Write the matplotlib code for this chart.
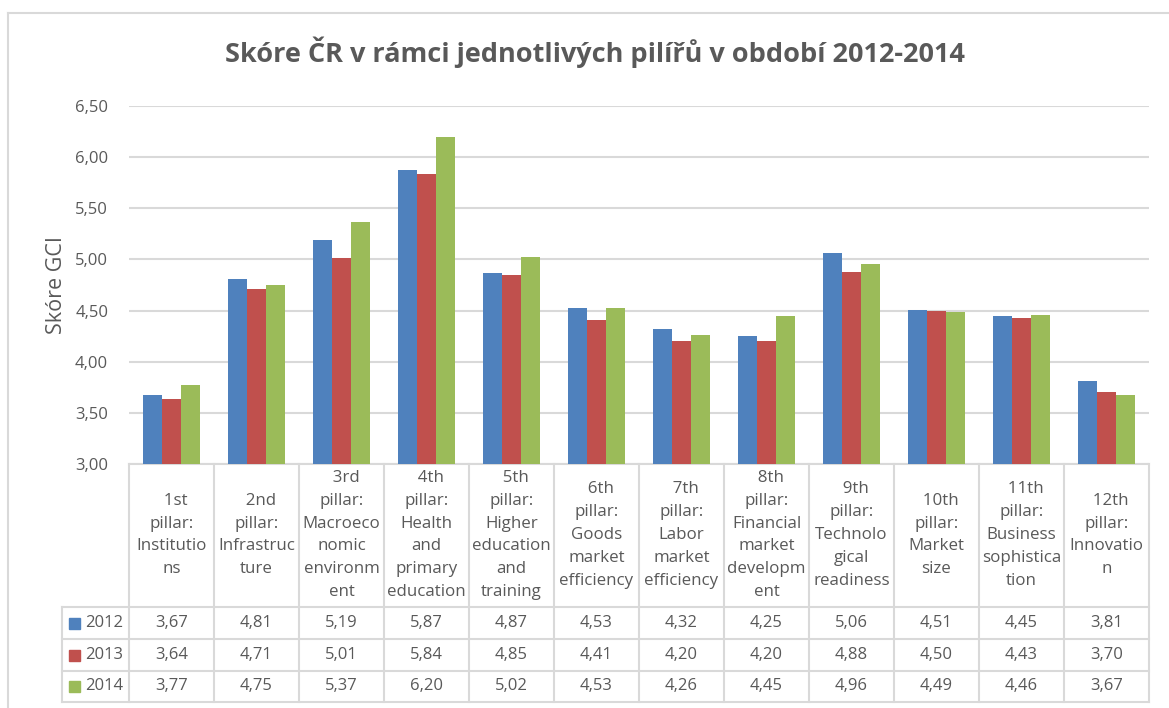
import matplotlib.pyplot as plt
import matplotlib.transforms as mtransforms
from matplotlib.lines import Line2D
from matplotlib.patches import Rectangle
import numpy as np

categories = [
    "  1st\npillar:\nInstitutio\nns",
    "  2nd\npillar:\nInfrastruc\nture",
    "  3rd\npillar:\nMacroeco\nnomic\nenvironm\nent",
    "  4th\npillar:\nHealth\nand\nprimary\neducation",
    "  5th\npillar:\nHigher\neducation\nand\ntraining",
    "  6th\npillar:\nGoods\nmarket\nefficiency",
    "  7th\npillar:\nLabor\nmarket\nefficiency",
    "  8th\npillar:\nFinancial\nmarket\ndevelopm\nent",
    "  9th\npillar:\nTechnolo\ngical\nreadiness",
    "  10th\npillar:\nMarket\nsize",
    "  11th\npillar:\nBusiness\nsophistica\ntion",
    "  12th\npillar:\nInnovatio\nn",
]
years = ["2012", "2013", "2014"]
score_2012 = [3.67, 4.81, 5.19, 5.87, 4.87, 4.53, 4.32, 4.25, 5.06, 4.51, 4.45, 3.81]
score_2013 = [3.64, 4.71, 5.01, 5.84, 4.85, 4.41, 4.20, 4.20, 4.88, 4.50, 4.43, 3.70]
score_2014 = [3.77, 4.75, 5.37, 6.20, 5.02, 4.53, 4.26, 4.45, 4.96, 4.49, 4.46, 3.67]
colors = ["#4F81BD", "#C0504D", "#9BBB59"]

TXT = "#595959"
GRID = "#D9D9D9"
W, H = 1169, 708

plt.rcParams['font.family'] = ['Open Sans', 'DejaVu Sans']

def fx(px):
    return px / W

def fy(py):
    return 1 - py / H

fig = plt.figure(figsize=(W / 100, H / 100), dpi=100)
ax = fig.add_axes([fx(129), fy(464), fx(1149) - fx(129), fy(106) - fy(464)])

series = [score_2012, score_2013, score_2014]
n = len(categories)
x = np.arange(n)
bw = 1 / 4.5
for i, vals in enumerate(series):
    ax.bar(x + (i - 1) * bw, np.array(vals) - 3, bottom=3, width=bw, color=colors[i], zorder=3)

ax.set_xlim(-0.5, n - 0.5)
ax.set_ylim(3, 6.5)
yt = np.arange(3, 6.51, 0.5)
ax.set_yticks(yt)
ax.set_yticklabels([f"{v:.2f}".replace(".", ",") for v in yt], fontsize=12, color=TXT)
ax.tick_params(axis='y', length=0, pad=15)
ax.set_xticks([])
ax.grid(axis='y', color=GRID, linewidth=1.5, zorder=0)
for s in ax.spines.values():
    s.set_visible(False)

# chart border
fig.add_artist(Line2D([fx(8), fx(8)], [fy(13), 0], color=GRID, linewidth=1.5))
fig.add_artist(Line2D([fx(8), 1], [fy(13), fy(13)], color=GRID, linewidth=1.5))

fig.text(fx(595), fy(52), "Skóre ČR v rámci jednotlivých pilířů v období 2012-2014",
         ha='center', va='center', fontsize=19.5, fontweight='bold', color=TXT)
fig.text(fx(57), fy(285), "Skóre GCI", rotation=90, ha='center', va='center',
         fontsize=15.5, color=TXT)

# data table
tr = mtransforms.blended_transform_factory(ax.transData, fig.transFigure)
col_w = 85
leg_left = -0.5 - (129 - 62) / col_w
rows_y = [607, 639, 671, 702]

def hline(x0, x1, py):
    ax.add_line(Line2D([x0, x1], [fy(py), fy(py)], transform=tr, color=GRID,
                       linewidth=1.5, clip_on=False))

def vline(xd, py0, py1):
    ax.add_line(Line2D([xd, xd], [fy(py0), fy(py1)], transform=tr, color=GRID,
                       linewidth=1.5, clip_on=False))

hline(-0.5, n - 0.5, 464)
for py in rows_y:
    hline(leg_left, n - 0.5, py)
for k in range(n + 1):
    vline(k - 0.5, 464, 702)
vline(leg_left, 607, 702)

for k, c in enumerate(categories):
    ax.text(k, fy(535), c, transform=tr, ha='center', va='center', fontsize=12.2,
            color=TXT, linespacing=1.58, multialignment='center')

for r, (yr, vals) in enumerate(zip(years, series)):
    yc = (rows_y[r] + rows_y[r + 1]) / 2
    ax.add_patch(Rectangle((leg_left + 7 / col_w, fy(yc + 5.5)), 11 / col_w, 11 / H,
                           transform=tr, color=colors[r], clip_on=False))
    ax.text(leg_left + 23 / col_w, fy(yc), yr, transform=tr, ha='left', va='center',
            fontsize=12, color=TXT)
    for k, v in enumerate(vals):
        ax.text(k, fy(yc), f"{v:.2f}".replace(".", ","), transform=tr, ha='center',
                va='center', fontsize=12, color=TXT)

fig.savefig("out.png", dpi=100)
